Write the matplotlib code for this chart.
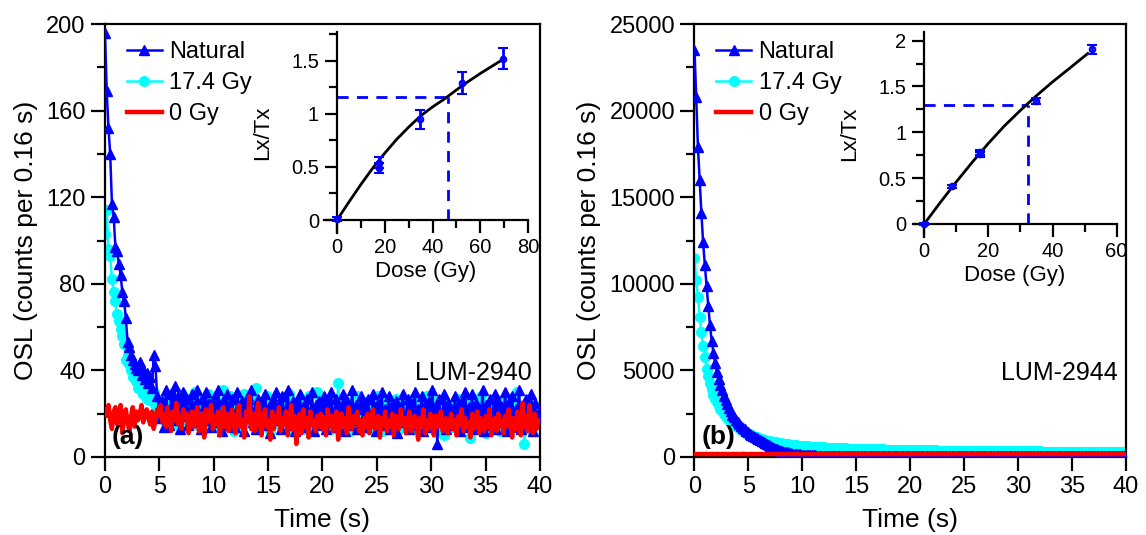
import matplotlib
matplotlib.use('Agg')
import matplotlib.pyplot as plt
import numpy as np
from matplotlib.ticker import MultipleLocator

plt.rcParams['font.family'] = 'Liberation Sans'

# channel width of the OSL measurement (s)
step = 0.16

# ---- panel (a): LUM-2940, counts per channel ----
nat_a = [196, 169, 152, 140, 117, 111, 97, 95, 89, 84, 76, 72, 64, 53, 51, 47, 45, 43, 41, 40, 44, 38, 40, 36, 39,
         34, 37, 32, 47, 42, 28, 22, 18, 26, 14, 31, 20, 15, 29, 24, 33, 17, 28, 13, 25, 30, 19, 27, 15, 22,
         29, 16, 24, 31, 18, 13, 27, 21, 30, 17, 25, 14, 22, 28, 16, 31, 19, 12, 26, 20, 29, 15, 23, 27, 18,
         14, 30, 21, 17, 26, 12, 24, 28, 19, 31, 16, 22, 13, 27, 20, 25, 15, 29, 18, 23, 11, 26, 21, 30, 17,
         24, 13, 28, 19, 22, 31, 15, 20, 26, 12, 25, 18, 29, 16, 23, 14, 27, 21, 17, 30, 12, 24, 19, 26, 15,
         22, 28, 13, 25, 18, 30, 16, 21, 27, 14, 23, 19, 29, 12, 26, 20, 15, 31, 17, 24, 13, 22, 28, 18, 25,
         14, 27, 20, 16, 29, 23, 12, 25, 19, 30, 15, 22, 17, 28, 13, 24, 21, 26, 11, 23, 18, 29, 16, 20, 27,
         13, 25, 19, 30, 15, 22, 17, 28, 12, 24, 20, 26, 14, 31, 18, 23, 6, 27, 16, 21, 29, 13, 25, 19, 22,
         15, 28, 18, 24, 12, 26, 20, 30, 14, 23, 17, 29, 13, 25, 19, 22, 16, 31, 12, 24, 18, 27, 15, 21, 29,
         13, 26, 19, 23, 16, 30, 12, 25, 18, 28, 14, 22, 20, 31, 13, 24, 17, 27, 15, 21, 29, 12, 25, 18, 20]
gy_a = [103, 114, 96, 93, 82, 76, 72, 66, 63, 59, 56, 52, 45, 47, 43, 40, 37, 38, 35, 32, 34, 30, 29, 31, 27,
        33, 29, 26, 30, 24, 27, 22, 19, 25, 17, 23, 28, 16, 21, 26, 18, 24, 15, 22, 29, 19, 25, 14, 21, 27,
        17, 23, 30, 15, 20, 26, 18, 13, 24, 29, 16, 22, 19, 27, 14, 21, 25, 17, 31, 20, 15, 23, 28, 18, 12,
        22, 26, 17, 24, 14, 29, 19, 21, 16, 27, 23, 13, 32, 20, 18, 25, 15, 22, 28, 17, 12, 24, 19, 26, 16,
        21, 14, 27, 18, 23, 15, 29, 20, 12, 25, 17, 22, 19, 26, 13, 24, 18, 28, 16, 21, 14, 23, 30, 17, 20,
        25, 15, 22, 18, 27, 13, 20, 24, 16, 34, 19, 23, 14, 26, 17, 21, 12, 25, 18, 22, 28, 15, 20, 24, 16,
        19, 26, 13, 22, 17, 24, 15, 28, 20, 12, 23, 18, 26, 14, 21, 25, 16, 27, 19, 13, 22, 17, 24, 20, 15,
        23, 18, 27, 14, 21, 16, 25, 12, 22, 19, 28, 15, 24, 17, 20, 26, 13, 23, 18, 21, 10, 25, 16, 22, 19,
        14, 24, 20, 27, 12, 22, 17, 25, 15, 21, 9, 26, 18, 23, 13, 20, 28, 16, 22, 11, 24, 19, 15, 21, 26,
        17, 22, 12, 25, 19, 15, 23, 27, 14, 20, 18, 24, 30, 21, 16, 22, 6, 19, 24, 13, 23, 20, 18, 22, 23]
zero_a = [22, 19, 24, 17, 13, 21, 23, 15, 20, 24, 11, 18, 22, 16, 12, 19, 23, 14, 21, 17, 20, 24, 16, 19, 22,
          18, 15, 21, 13, 17, 22, 19, 24, 16, 20, 14, 23, 18, 12, 21, 17, 25, 15, 19, 13, 22, 18, 20, 11, 16,
          21, 14, 19, 23, 12, 17, 20, 9, 22, 16, 18, 24, 13, 19, 15, 21, 10, 17, 23, 14, 20, 12, 18, 22, 15,
          11, 19, 24, 14, 17, 9, 21, 16, 28, 13, 20, 12, 18, 25, 15, 10, 19, 22, 14, 17, 8, 21, 13, 19, 16,
          23, 12, 18, 15, 21, 10, 17, 24, 13, 19, 6, 16, 20, 11, 22, 14, 18, 9, 21, 15, 17, 12, 19, 14, 20,
          13, 18, 10, 22, 15, 19, 12, 17, 21, 8, 16, 20, 14, 18, 11, 23, 15, 13, 19, 16, 21, 12, 17, 10, 18,
          14, 20, 11, 17, 22, 13, 16, 19, 9, 18, 15, 21, 12, 17, 14, 20, 10, 19, 16, 13, 22, 15, 18, 11, 17,
          21, 12, 16, 19, 14, 8, 18, 15, 22, 11, 17, 13, 20, 16, 10, 19, 14, 17, 21, 12, 15, 18, 11, 16, 20,
          13, 17, 10, 19, 15, 22, 12, 18, 14, 16, 9, 20, 13, 17, 21, 11, 18, 15, 12, 19, 14, 22, 10, 16, 18,
          12, 20, 15, 17, 11, 19, 14, 22, 16, 9, 18, 13, 21, 15, 10, 25, 14, 19, 12, 24, 16, 11, 20, 13, 17]

# ---- panel (b): LUM-2944 ----
nat_b = [23500, 20800, 17900, 16000, 14100, 12400, 11100, 9900, 8700, 7600, 6700, 6000, 5400, 4900, 4500,
         4150, 3850, 3550, 3300, 3050, 2850, 2650, 2450, 2300, 2150,
         2020, 1900, 1790, 1690, 1600, 1510, 1430, 1350, 1280, 1210, 1140, 1080, 1020, 960, 900, 850, 790,
         740, 690, 640, 590, 540, 490, 450, 410,
         375, 340, 310, 285, 260, 240, 220, 200, 185, 170, 158, 147, 137, 128, 120, 113, 107, 102, 97, 93,
         89, 86, 83, 80, 78,
         76, 74, 73, 71, 70, 69, 68, 67, 66, 65, 64, 63, 63, 62, 61, 61, 60, 60, 59, 59, 58, 58, 57, 57, 56,
         56, 55, 55, 54, 54, 54, 53, 53, 53, 52, 52, 52, 51, 51, 51, 51, 50, 50, 50, 50, 49, 49, 49, 49, 48,
         48, 48, 48, 48, 47, 47, 47, 47, 47, 46, 46, 46, 46, 46, 46, 45, 45, 45, 45, 45, 45, 44, 44, 44, 44,
         44, 44, 44, 43, 43, 43, 43, 43, 43, 43, 42, 42, 42, 42, 42, 42, 42, 42, 41, 41, 41, 41, 41, 41, 41,
         41, 40, 40, 40, 40, 40, 40, 40, 40, 40, 39, 39, 39, 39, 39, 39, 39, 39, 39, 39, 38, 38, 38, 38, 38,
         38, 38, 38, 38, 38, 37, 37, 37, 37, 37, 37, 37, 37, 37, 37, 37, 36, 36, 36, 36, 36, 36, 36, 36, 36,
         36, 36, 35, 35, 35, 35, 35, 35, 35, 35, 35, 35, 35, 35, 34, 34, 34, 34, 34, 34, 34, 34, 34, 34, 34]
gy_b = [11500, 10200, 9250, 8100, 7200, 6400, 5800, 5100, 4650, 4250, 3900, 3600, 3350, 3150, 2950,
        2800, 2650, 2500, 2380, 2260, 2150, 2050, 1960, 1870, 1790,
        1720, 1650, 1580, 1520, 1460, 1400, 1350, 1300, 1250, 1210, 1170, 1130, 1090, 1060, 1030, 1000, 975,
        950, 925, 900, 880, 860, 840, 820, 805,
        790, 775, 760, 745, 730, 718, 706, 695, 684, 673, 663, 653, 644, 635, 626, 618, 610, 602, 595, 588,
        581, 575, 569, 563, 557,
        552, 547, 542, 537, 532, 527, 522, 518, 514, 510, 506, 502, 498, 494, 490, 487, 484, 481, 478, 475,
        472, 469, 466, 463, 460,
        457, 454, 451, 448, 446, 443, 441, 438, 436, 433, 431, 429, 427, 424, 422, 420, 418, 416, 414, 412,
        410, 408, 406, 404, 402,
        400, 398, 396, 395, 393, 391, 390, 388, 386, 385, 383, 382, 380, 379, 377, 376, 374, 373, 372, 370,
        369, 368, 366, 365, 364,
        363, 361, 360, 359, 358, 357, 355, 354, 353, 352, 351, 350, 349, 348, 347, 346, 345, 344, 343, 342,
        341, 340, 339, 338, 337,
        336, 335, 334, 334, 333, 332, 331, 330, 330, 329, 328, 327, 326, 326, 325, 324, 324, 323, 322, 322,
        321, 320, 320, 319, 318,
        318, 317, 317, 316, 315, 315, 314, 314, 313, 312, 312, 311, 311, 310, 310, 309, 309, 308, 308, 307,
        307, 306, 306, 305, 305,
        304, 304, 303, 303, 302, 302, 302, 301, 301, 300, 300, 299, 299, 299, 298, 298, 297, 297, 297, 296,
        296, 296, 295, 295, 295]
zero_b = [182, 168, 175, 160, 178, 171, 165, 180, 159, 173, 168, 176, 162, 181, 170, 157, 174, 167, 179, 163,
          172, 158, 177, 169, 165, 176, 161, 170, 183, 166, 174, 158, 169, 178, 164, 171, 160, 175, 168, 180,
          163, 172, 157, 176, 169, 166, 179, 161, 173, 167, 170, 178, 162, 168, 175, 159, 181, 166, 172, 164,
          177, 160, 171, 169, 163, 176, 158, 174, 167, 180, 165, 170, 161, 178, 168, 173, 159, 175, 166, 171,
          179, 162, 169, 176, 164, 172, 157, 174, 168, 181, 163, 170, 166, 177, 160, 173, 169, 165, 178, 161,
          171, 167, 175, 159, 180, 166, 172, 163, 176, 168, 170, 158, 174, 165, 179, 162, 171, 167, 173, 160,
          177, 164, 169, 175, 161, 172, 166, 180, 163, 170, 158, 176, 168, 174, 165, 171, 160, 178, 167, 173,
          162, 175, 169, 157, 179, 166, 172, 164, 176, 161, 170, 168, 174, 159, 177, 165, 171, 163, 180, 167,
          173, 160, 175, 169, 166, 178, 162, 172, 164, 176, 158, 170, 168, 174, 161, 179, 165, 171, 163, 177,
          167, 173, 159, 175, 169, 166, 180, 162, 172, 164, 176, 160, 170, 168, 174, 161, 178, 165, 171, 163,
          177, 167, 173, 158, 175, 169, 166, 179, 162, 172, 164, 176, 160, 170, 168, 174, 161, 178, 165, 171,
          163, 177, 167, 173, 159, 175, 169, 166, 180, 162, 172, 164, 176, 160, 170, 168, 174, 161, 178, 165,
          171, 163, 177, 167, 173, 160, 175, 169, 166, 172]

# ---- dose response (insets) ----
dose_a = [0, 17.4, 17.4, 34.8, 52.2, 69.6]
lxtx_a = [0.01, 0.49, 0.54, 0.95, 1.29, 1.52]
err_a = [0.02, 0.05, 0.05, 0.09, 0.10, 0.10]
fit_dose_a = [0, 5, 10, 15, 20, 25, 30, 35, 40, 45, 50, 55, 60, 65, 70]
fit_lx_a = [0, 0.17, 0.335, 0.49, 0.63, 0.76, 0.875, 0.98, 1.065, 1.14, 1.225, 1.305, 1.38, 1.45, 1.52]
de_a, ln_a = 46.3, 1.155

dose_b = [0, 8.7, 17.4, 17.4, 34.8, 52.2]
lxtx_b = [0.0, 0.41, 0.76, 0.78, 1.34, 1.905]
err_b = [0.01, 0.015, 0.03, 0.03, 0.03, 0.045]
fit_dose_b = [0, 5, 10, 15, 20, 25, 30, 35, 40, 45, 51]
fit_lx_b = [0, 0.235, 0.46, 0.675, 0.88, 1.07, 1.24, 1.40, 1.55, 1.69, 1.86]
de_b, ln_b = 32.4, 1.30

BLUE = '#0000ff'
CYAN = '#00ffff'
RED = '#ff0000'

fig = plt.figure(figsize=(11.46, 5.35), dpi=100)
axa = fig.add_axes([0.0916, 0.1458, 0.3796, 0.8093])
axb = fig.add_axes([0.606, 0.1458, 0.3765, 0.8093])


def decay_panel(ax, nat, gy, zero, ymax, major, minor, letter, sample):
    t1 = np.arange(len(nat)) * step
    t2 = np.arange(len(gy)) * step
    t3 = np.arange(len(zero)) * step
    ax.plot(t1, nat, color=BLUE, lw=1.8, marker='^', ms=6.5, label='Natural', zorder=3)
    ax.plot(t2, gy, color=CYAN, lw=1.8, marker='o', ms=7, label='17.4 Gy', zorder=2)
    ax.plot(t3, zero, color=RED, lw=3.2, label='0 Gy', zorder=4)
    ax.set_xlim(0, 40)
    ax.set_ylim(0, ymax)
    ax.xaxis.set_major_locator(MultipleLocator(5))
    ax.yaxis.set_major_locator(MultipleLocator(major))
    ax.yaxis.set_minor_locator(MultipleLocator(minor))
    ax.tick_params(which='major', direction='out', length=10, width=1.6, labelsize=17,
                   top=False, right=False, pad=4)
    ax.tick_params(which='minor', direction='out', length=6, width=1.6, top=False, right=False)
    for s in ax.spines.values():
        s.set_linewidth(1.6)
    ax.set_xlabel('Time (s)', fontsize=19, labelpad=7)
    ax.set_ylabel('OSL (counts per 0.16 s)', fontsize=19, labelpad=6)
    ax.text(0.016, 0.046, letter, transform=ax.transAxes, fontsize=19, fontweight='bold',
            ha='left', va='center', zorder=6)
    ax.text(0.98, 0.194, sample, transform=ax.transAxes, fontsize=18, ha='right', va='center')
    ax.legend(loc='upper left', bbox_to_anchor=(0.05, 0.96), frameon=False, fontsize=17,
              handlelength=1.5, handletextpad=0.3, labelspacing=0.38, borderpad=0,
              borderaxespad=0, numpoints=1)


def inset(rect, dose, lx, err, fd, fl, de, ln, xlo, xmax, xstep, ylo, ymax):
    ins = fig.add_axes(rect)
    ins.patch.set_alpha(0)
    ins.plot(fd, fl, color='black', lw=2, zorder=2)
    ins.errorbar(dose, lx, yerr=err, fmt='o', color=BLUE, mfc='none', ms=4, mew=1.5,
                 elinewidth=2, capsize=3.5, capthick=2, zorder=3, clip_on=False)
    ins.plot([0, de], [ln, ln], color=BLUE, lw=2, dashes=(4, 3), zorder=1)
    ins.plot([de, de], [0, ln], color=BLUE, lw=2, dashes=(4, 3), zorder=1)
    ins.set_xlim(xlo, xmax)
    ins.set_ylim(ylo, ymax)
    ins.spines['left'].set_position(('data', 0))
    ins.spines['bottom'].set_position(('data', 0))
    ins.spines['top'].set_visible(False)
    ins.spines['right'].set_visible(False)
    for s in ('left', 'bottom'):
        ins.spines[s].set_linewidth(1.6)
    ins.xaxis.set_major_locator(MultipleLocator(xstep))
    ins.xaxis.set_minor_locator(MultipleLocator(xstep / 2))
    ins.yaxis.set_major_locator(MultipleLocator(0.5))
    ins.yaxis.set_minor_locator(MultipleLocator(0.25))
    ins.tick_params(which='major', direction='out', length=9, width=1.6, labelsize=14.5, pad=4)
    ins.tick_params(which='minor', direction='out', length=5.5, width=1.6)
    ins.yaxis.set_major_formatter(plt.FuncFormatter(lambda v, p: ('%g' % v)))
    ins.set_xlabel('Dose (Gy)', fontsize=16, labelpad=3)
    ins.set_ylabel('Lx/Tx', fontsize=16, labelpad=13)
    return ins


decay_panel(axa, nat_a, gy_a, zero_a, 200, 40, 20, '(a)', 'LUM-2940')
decay_panel(axb, nat_b, gy_b, zero_b, 25000, 5000, 2500, '(b)', 'LUM-2944')

inset([0.2824, 0.5637, 0.1784, 0.3764], dose_a, lxtx_a, err_a, fit_dose_a, fit_lx_a,
      de_a, ln_a, -5.6, 80, 20, -0.126, 1.77)
inset([0.797, 0.5574, 0.1774, 0.3837], dose_b, lxtx_b, err_b, fit_dose_b, fit_lx_b,
      de_b, ln_b, -3.4, 60, 20, -0.14, 2.1)

fig.savefig('out.png', dpi=100)
